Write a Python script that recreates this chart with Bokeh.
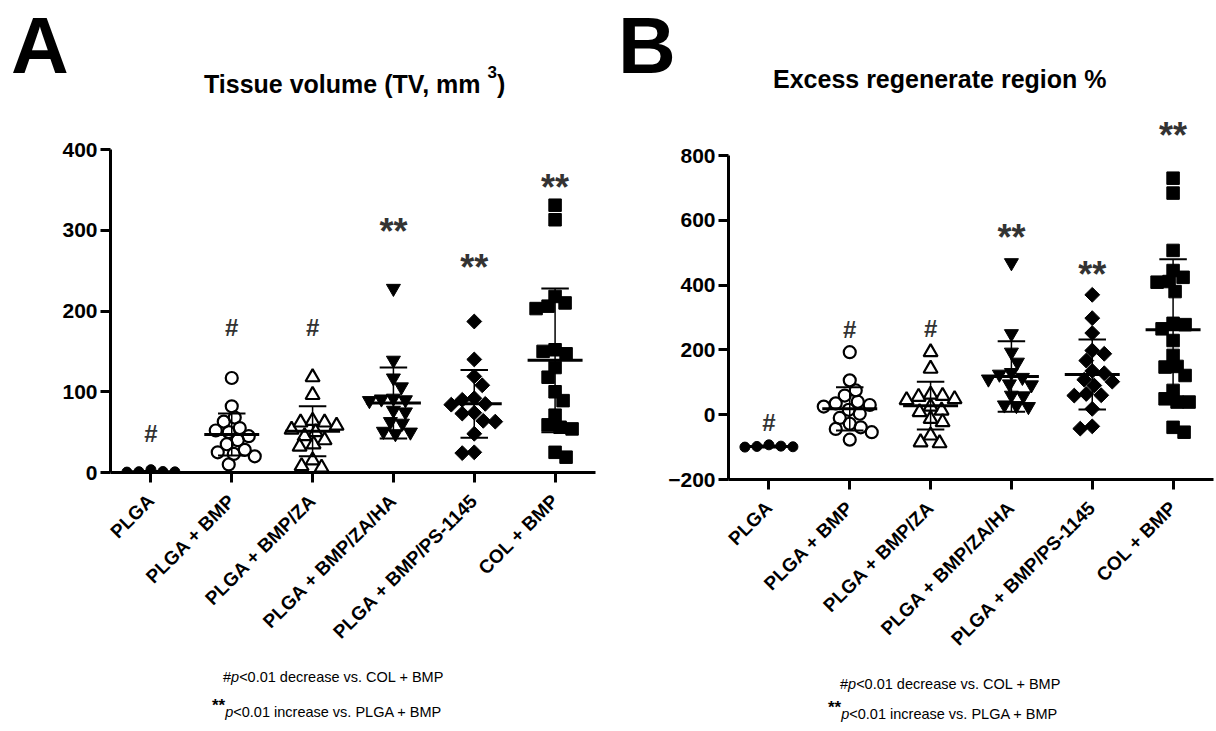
import math
import numpy as np
from bokeh.plotting import figure
from bokeh.layouts import row, column
from bokeh.models import Range1d, FixedTicker, Div
from bokeh.core.properties import value
from bokeh.embed import file_html
from bokeh.resources import INLINE

# ---------------- data ----------------
categories = ["PLGA", "PLGA + BMP", "PLGA + BMP/ZA", "PLGA + BMP/ZA/HA",
              "PLGA + BMP/PS-1145", "COL + BMP"]

# Panel A: Tissue volume (TV, mm^3)
tv_plga = [3.5, 1.0, 0.5, 0.8, 1.2]
tv_bmp = [117, 82, 68, 63, 55, 52, 50, 45, 40, 35, 28, 25, 23, 20, 10]
tv_za = [118, 96, 64, 62, 62, 58, 53, 50, 45, 40, 35, 32, 15, 8, 6]
tv_zaha = [228, 139, 117, 106, 92, 91, 90, 89, 77, 75, 63, 61, 51, 50, 48]
tv_ps = [187, 140, 119, 108, 92, 90, 85, 84, 74, 73, 64, 63, 48, 25, 24]
tv_col = [331, 313, 218, 210, 206, 203, 152, 150, 147, 130, 118, 100, 89,
          71, 59, 56, 54, 25, 19]
tv_mean = [1, 47, 51, 86, 85, 139]
tv_sd = [1, 26, 31, 44, 42, 89]
tv_marks = ["#", "#", "#", "**", "**", "**"]
tv_mark_y = [48, 180, 180, 312, 267, 366]
tv_ticks = [0, 100, 200, 300, 400]

# Panel B: Excess regenerate region %
ex_plga = [-93, -98, -100, -99, -97]
ex_bmp = [193, 106, 75, 59, 40, 35, 30, 25, 15, 3, -10, -28, -39, -44, -54, -77]
ex_za = [193, 142, 62, 58, 55, 48, 45, 25, 13, 8, -13, -23, -64, -85, -88]
ex_zaha = [469, 250, 193, 162, 130, 125, 115, 110, 95, 92, 60, 58, 30, 28, 25]
ex_ps = [370, 298, 252, 198, 188, 167, 135, 128, 108, 102, 90, 64, 60, 59,
         18, -36, -43]
ex_col = [730, 684, 507, 445, 424, 411, 409, 380, 282, 278, 265, 229, 183,
          149, 147, 121, 75, 49, 39, 39, -39, -54]
ex_mean = [-98, 18, 28, 118, 124, 262]
ex_sd = [3, 67, 74, 109, 108, 218]
ex_marks = ["#", "#", "#", "**", "**", "**"]
ex_mark_y = [-23, 262, 265, 579, 466, 893]
ex_ticks = [-200, 0, 200, 400, 600, 800]

# ---------------- styles ----------------
FONT = "Liberation Sans"
CSS_FONT = "font-family:'Liberation Sans',Arial,sans-serif;"
STYLES = [
    dict(marker="circle", size=10, fill="black", lw=1.0, angle=0.0),
    dict(marker="circle", size=12, fill=None, lw=2.2, angle=0.0),
    dict(marker="triangle", size=14, fill=None, lw=2.2, angle=0.0),
    dict(marker="inverted_triangle", size=14, fill="black", lw=1.0, angle=0.0),
    dict(marker="square", size=10.5, fill="black", lw=1.0, angle=math.pi / 4),
    dict(marker="square", size=12.5, fill="black", lw=1.0, angle=0.0),
]
MEAN_HALF = 0.34
CAP_HALF = 0.17
HASH_SIZE = 24
STAR_SIZE = 36
ANN_COLOR = "#333333"


def swarm(vals, ppu, ppc, dmin=11.5, step=1.0):
    """Simple beeswarm layout in pixel space; returns x offsets in category units."""
    vals = np.asarray(vals, dtype=float)
    order = np.argsort(-vals, kind="stable")
    px, py = [], []
    offs = np.zeros(len(vals))
    flip = False
    for i in order:
        y = vals[i] * ppu
        k = 0
        chosen = None
        while chosen is None:
            if k == 0:
                cands = [0.0]
            else:
                cands = [k * step, -k * step] if not flip else [-k * step, k * step]
            for c in cands:
                if all((c - a) ** 2 + (y - b) ** 2 >= dmin ** 2 for a, b in zip(px, py)):
                    chosen = c
                    break
            k += 1
        if chosen != 0:
            flip = not flip
        px.append(chosen)
        py.append(y)
        offs[i] = chosen / ppc
    return offs


def build(cfg, groups, mean, sd, marks, mark_y, ticks):
    W, H = cfg["w"], cfg["h"]
    L, R, T, B = cfg["left"], cfg["right"], cfg["top"], cfg["bottom"]
    x0, x1 = -0.5, 5.5
    fw, fh = W - L - R, H - T - B
    ppu = cfg["ppu"]
    y0 = ticks[0]
    y1 = y0 + fh / ppu
    ppc = fw / (x1 - x0)

    p = figure(width=W, height=H, x_range=Range1d(x0, x1), y_range=Range1d(y0, y1),
               output_backend="svg", toolbar_location=None, title=None,
               min_border_left=L, min_border_right=R, min_border_top=T,
               min_border_bottom=B)
    p.xgrid.visible = False
    p.ygrid.visible = False
    p.outline_line_color = None
    p.background_fill_color = "white"
    p.border_fill_color = "white"

    xa = p.xaxis[0]
    xa.ticker = FixedTicker(ticks=list(range(len(categories))))
    xa.major_label_overrides = {i: c for i, c in enumerate(categories)}
    xa.major_label_orientation = math.pi / 4
    ya = p.yaxis[0]
    ya.ticker = FixedTicker(ticks=ticks)
    ya.bounds = (ticks[0], ticks[-1])
    for ax, fs, so in ((xa, "19px", 15), (ya, "21px", 3)):
        ax.axis_line_width = 3
        ax.axis_line_color = "black"
        ax.major_tick_line_width = 3
        ax.major_tick_line_color = "black"
        ax.major_tick_out = 10
        ax.major_tick_in = 0
        ax.minor_tick_line_color = None
        ax.major_label_text_font = FONT
        ax.major_label_text_font_style = "bold"
        ax.major_label_text_font_size = fs
        ax.major_label_text_color = "black"
        ax.major_label_standoff = so

    # points
    for i, vals in enumerate(groups):
        st = STYLES[i]
        xs = i + swarm(vals, ppu, ppc)
        p.scatter(x=list(xs), y=list(vals), marker=st["marker"], size=st["size"],
                  angle=st["angle"], fill_color=st["fill"], line_color="black",
                  line_width=st["lw"])

    idx = np.arange(len(mean), dtype=float)
    m = np.asarray(mean, dtype=float)
    s = np.asarray(sd, dtype=float)
    p.segment(x0=list(idx - MEAN_HALF), y0=list(m), x1=list(idx + MEAN_HALF), y1=list(m),
              line_color="black", line_width=3)
    p.segment(x0=list(idx), y0=list(m - s), x1=list(idx), y1=list(m + s),
              line_color="black", line_width=1.5)
    for sign in (1, -1):
        p.segment(x0=list(idx - CAP_HALF), y0=list(m + sign * s),
                  x1=list(idx + CAP_HALF), y1=list(m + sign * s),
                  line_color="black", line_width=2)

    # significance marks (mark_y = visual centre of the symbol); shift in px
    for sym, fs, style, shift_px in (("#", HASH_SIZE, "bold", 0.0), ("**", STAR_SIZE, "bold", 10.5)):
        sel = [j for j, t in enumerate(marks) if t == sym]
        p.text(x=[float(j) for j in sel],
               y=[mark_y[j] - shift_px / ppu for j in sel],
               text=[sym] * len(sel), text_font=value(FONT), text_font_size=f"{fs}px",
               text_font_style=style, text_align="center", text_baseline="middle",
               text_color=ANN_COLOR)
    return p


def text_box(width, height, items):
    """HTML block with absolutely placed text lines:
    (left, baseline, size, weight, html, line-height factor)."""
    parts = []
    for left, base, size, weight, html, f in items:
        top = base - (f / 2 + 0.3465) * size
        parts.append(
            f'<div style="position:absolute;left:{left}px;top:{top:.1f}px;{CSS_FONT}'
            f'font-size:{size}px;line-height:{f * size:.1f}px;font-weight:{weight};'
            f'white-space:nowrap;color:#000;">{html}</div>')
    inner = "".join(parts)
    return Div(text=f'<div style="position:relative;width:{width}px;height:{height}px;'
                    f'overflow:visible;">{inner}</div>',
               width=width, height=height, margin=0)


SUP3 = '<span style="font-size:17px;position:relative;top:-15px;">3</span>'
STARS = '<span style="font-size:17px;font-weight:bold;position:relative;top:-6px;">**</span>'
FOOT1 = "#<i>p</i>&lt;0.01 decrease vs. COL + BMP"
FOOT2 = STARS + "<i>p</i>&lt;0.01 increase vs. PLGA + BMP"

HEAD_H = 100
LET = 80
# panel A (page x 0..600)
head_a = text_box(600, HEAD_H, [
    (11, 74, LET, "bold", "A", 1.15),
    (204, 93, 25, "bold", "Tissue volume (TV, mm " + SUP3 + ")", 1.2),
])
pa = build(dict(w=600, h=562, left=110, right=5, top=10, bottom=190, ppu=0.8075),
           [tv_plga, tv_bmp, tv_za, tv_zaha, tv_ps, tv_col],
           tv_mean, tv_sd, tv_marks, tv_mark_y, tv_ticks)
foot_a = text_box(600, 69, [
    (223, 21, 14.5, "normal", FOOT1, 1.2),
    (212, 55, 14.5, "normal", FOOT2, 1.2),
])

# panel B (page x 600..1216)
head_b = text_box(616, HEAD_H, [
    (18, 74, LET, "bold", "B", 1.15),
    (173, 88, 25, "bold", "Excess regenerate region %", 1.2),
])
pb = build(dict(w=616, h=569, left=128, right=3, top=10, bottom=190, ppu=0.324),
           [ex_plga, ex_bmp, ex_za, ex_zaha, ex_ps, ex_col],
           ex_mean, ex_sd, ex_marks, ex_mark_y, ex_ticks)
foot_b = text_box(616, 62, [
    (240, 21, 14.5, "normal", FOOT1, 1.2),
    (228, 50, 14.5, "normal", FOOT2, 1.2),
])

layout = row(column(head_a, pa, foot_a, spacing=0),
             column(head_b, pb, foot_b, spacing=0), spacing=0)
open("out.html", "w").write(file_html(layout, INLINE))
